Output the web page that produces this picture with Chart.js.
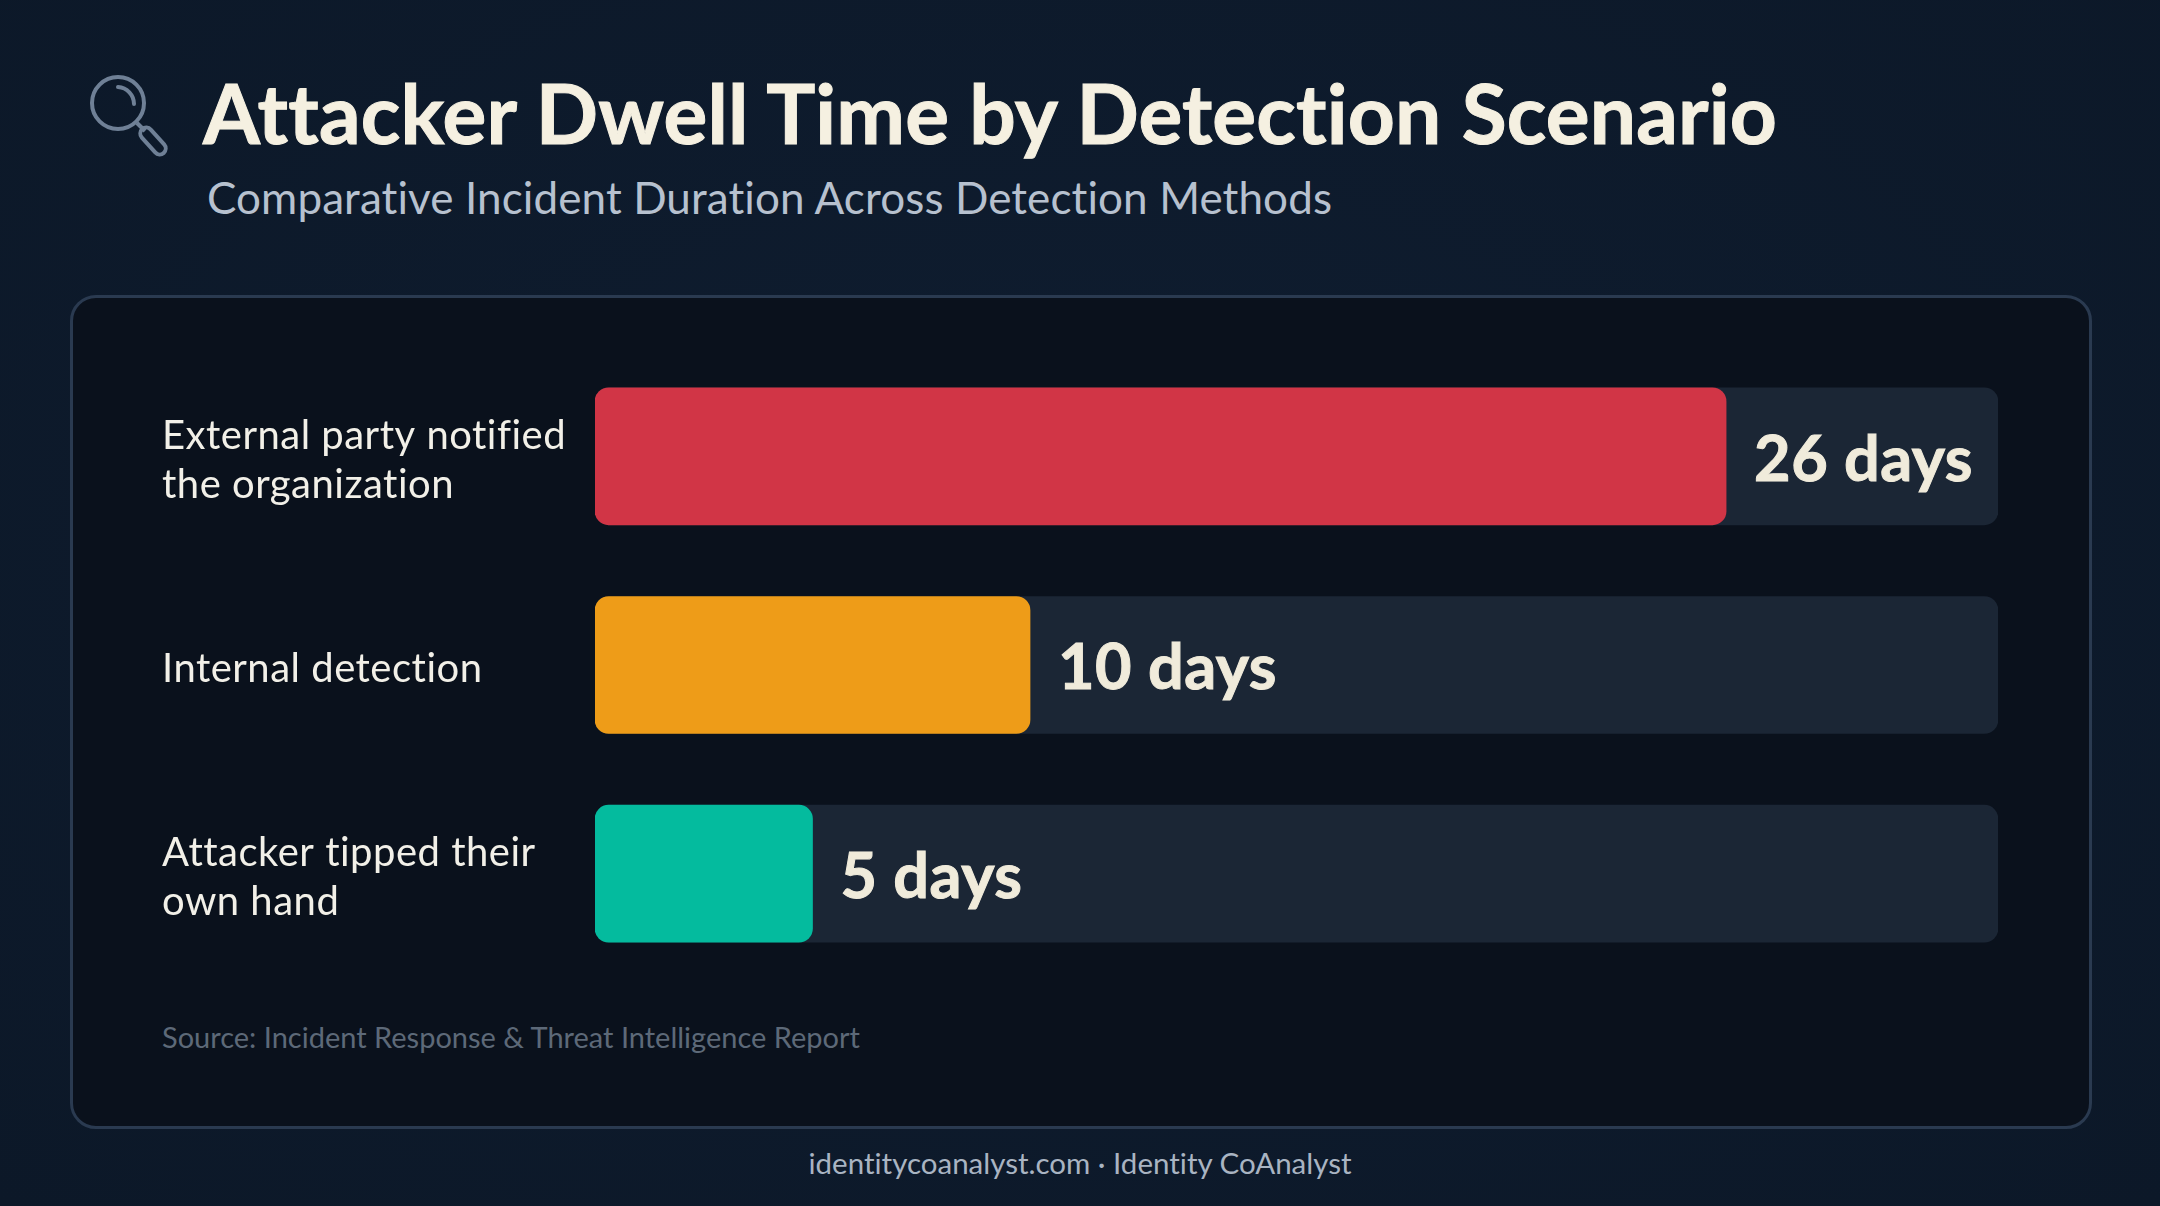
<!DOCTYPE html>
<html>
<head>
<meta charset="utf-8">
<title>Attacker Dwell Time by Detection Scenario</title>
<script src="https://cdn.jsdelivr.net/npm/chart.js@4"></script>
<style>
  html, body { margin: 0; width: 2160px; height: 1206px; overflow: hidden; }
  body {
    position: relative;
    font-family: Lato, sans-serif;
    font-variant-ligatures: none;
    background: radial-gradient(ellipse at 50% 45%, #10203a00 0%, #0c1828 100%), #0f1d30;
  }
  .abs { position: absolute; white-space: nowrap; }
  #icon { left: 88px; top: 74px; }
  #title { left: 203px; top: 62px; font-size: 82px; line-height: 100px; font-weight: 700; color: #f5f0e1; -webkit-text-stroke: 1px #f5f0e1; letter-spacing: 0.2px; }
  #subtitle { left: 207px; top: 169px; font-size: 44px; line-height: 56px; color: #b7c1cf; letter-spacing: 0.1px; }
  #card {
    left: 70px; top: 295px; width: 2016px; height: 828px;
    background: #0a111c; border: 3px solid #2a3a50; border-radius: 26px;
  }
  #chart-wrap { left: 162px; top: 352px; width: 1836px; height: 626px; }
  #source { left: 162px; top: 1017px; font-size: 29px; line-height: 40px; color: #5d6978; }
  #footer { left: 0; width: 2160px; text-align: center; top: 1143px; font-size: 29.5px; line-height: 40px; color: #a9b4c2; }
</style>
</head>
<body>
<svg id="icon" class="abs" width="82" height="84" viewBox="0 0 82 84" fill="none" stroke="#6f8096" stroke-width="4">
  <circle cx="30" cy="29" r="26"/>
  <path d="M30 13a17 17 0 0 1 16 17" stroke-linecap="round"/>
  <path d="M49 49l8 8"/>
  <rect x="-6" y="-16" width="12" height="32" rx="6" transform="translate(65 67) rotate(-42)"/>
</svg>
<div id="title" class="abs">Attacker Dwell Time by Detection Scenario</div>
<div id="subtitle" class="abs">Comparative Incident Duration Across Detection Methods</div>
<div id="card" class="abs"></div>
<div id="chart-wrap" class="abs"><canvas id="dwell" width="1836" height="626"></canvas></div>
<div id="source" class="abs">Source: Incident Response &amp; Threat Intelligence Report</div>
<div id="footer" class="abs">identitycoanalyst.com · Identity CoAnalyst</div>

<script>
const scenarios = [['External party notified', 'the organization'], 'Internal detection', ['Attacker tipped their', 'own hand']];
const dwellDays = [26, 10, 5];
const dayLabels = ['26 days', '10 days', '5 days'];
const barColors = ['#d13546', '#ee9c18', '#04bb9e'];
const axisMax = 32.25;
const trackValues = [axisMax, axisMax, axisMax];

// value text sits just past the end of each coloured bar
const valueLabels = {
    id: 'valueLabels',
    beforeDraw(chart) {
        // non-zero spacing also switches off Lato's "ti" ligature on the canvas
        chart.ctx.letterSpacing = '0.5px';
    },
    afterDatasetsDraw(chart) {
        const ctx = chart.ctx;
        const bars = chart.getDatasetMeta(0).data;
        ctx.save();
        ctx.font = '700 63px Lato, sans-serif';
        ctx.fillStyle = '#f0ebdb';
        ctx.strokeStyle = '#f0ebdb';
        ctx.lineWidth = 1;
        ctx.textBaseline = 'middle';
        bars.forEach((bar, i) => {
            ctx.fillText(dayLabels[i], bar.x + 28, bar.y + 4);
            ctx.strokeText(dayLabels[i], bar.x + 28, bar.y + 4);
        });
        ctx.restore();
    }
};

new Chart(document.getElementById('dwell'), {
    type: 'bar',
    data: {
        labels: scenarios,
        datasets: [
            { data: dwellDays, backgroundColor: barColors },
            { data: trackValues, backgroundColor: '#1b2635' }
        ]
    },
    options: {
        indexAxis: 'y',
        responsive: false,
        animation: false,
        devicePixelRatio: 1,
        layout: { padding: 0 },
        datasets: { bar: { grouped: false, barThickness: 137, borderRadius: 14, borderSkipped: false } },
        plugins: { legend: { display: false }, tooltip: { enabled: false } },
        scales: {
            x: { display: false, min: 0, max: axisMax },
            y: {
                grid: { display: false },
                border: { display: false },
                afterFit(axis) {
                    axis.width = 433;
                    // stop the two-line labels from shrinking the plot height
                    axis.paddingTop = 0;
                    axis.paddingBottom = 0;
                },
                ticks: {
                    crossAlign: 'far',
                    color: '#f2f0e8',
                    padding: 0,
                    labelOffset: 4,
                    font: { family: 'Lato, sans-serif', size: 40, lineHeight: 1.22 }
                }
            }
        }
    },
    plugins: [valueLabels]
});
</script>
</body>
</html>
